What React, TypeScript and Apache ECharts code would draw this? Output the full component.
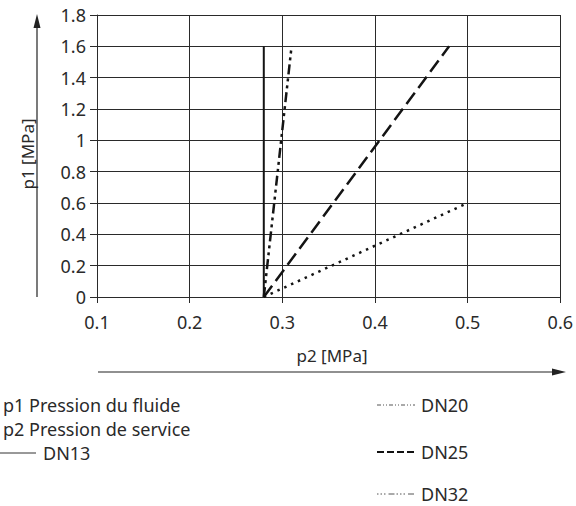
import React, { useEffect, useRef } from "react";
import * as echarts from "echarts";

const xTicks = [0.1, 0.2, 0.3, 0.4, 0.5, 0.6];
const yTicks = [0, 0.2, 0.4, 0.6, 0.8, 1, 1.2, 1.4, 1.6, 1.8];
const seriesNames = ["DN13", "DN20", "DN25", "DN32"];
const dn13 = [[0.28, 0], [0.28, 1.6]];
const dn20 = [[0.28, 0], [0.31, 1.6]];
const dn25 = [[0.28, 0], [0.48, 1.6]];
const dn32 = [[0.28, 0], [0.5, 0.6]];
const legendLines = ["p1 Pression du fluide", "p2 Pression de service"];
const axisNames = ["p2 [MPa]", "p1 [MPa]"];

const FONT = "Noto Sans";
const TXT = "#2a2a2a";

export default function App() {
  const ref = useRef<HTMLDivElement>(null);
  useEffect(() => {
    if (!ref.current) return;
    const chart = echarts.init(ref.current, undefined, { renderer: "svg" });
    const lineColor = "#141414";
    const fmt = (v: number) => String(Math.round(v * 10) / 10);
    chart.setOption({
      animation: false,
      backgroundColor: "#fff",
      grid: { left: 97, right: 13, top: 15, bottom: 209, containLabel: false },
      xAxis: {
        type: "value",
        min: xTicks[0],
        max: xTicks[xTicks.length - 1],
        interval: 0.1,
        axisLine: { show: true, lineStyle: { color: "#2a2a2a", width: 1 } },
        axisTick: { show: true, length: 6, lineStyle: { color: "#2a2a2a" } },
        axisLabel: { color: TXT, fontFamily: FONT, fontSize: 18, margin: 16, formatter: fmt },
        splitLine: { show: true, lineStyle: { color: "#2a2a2a", width: 1 } },
      },
      yAxis: {
        type: "value",
        min: yTicks[0],
        max: yTicks[yTicks.length - 1],
        interval: 0.2,
        axisLine: { show: true, lineStyle: { color: "#2a2a2a", width: 1 } },
        axisTick: { show: true, length: 7, lineStyle: { color: "#2a2a2a" } },
        axisLabel: { color: TXT, fontFamily: FONT, fontSize: 18, margin: 11, formatter: fmt },
        splitLine: { show: true, lineStyle: { color: "#2a2a2a", width: 1 } },
      },
      series: [
        { name: seriesNames[0], type: "line", data: dn13, symbol: "none",
          lineStyle: { color: lineColor, width: 2, type: "solid" } },
        { name: seriesNames[1], type: "line", data: dn20, symbol: "none",
          lineStyle: { color: lineColor, width: 2.5, type: [10, 4, 3, 4, 3, 4] } },
        { name: seriesNames[2], type: "line", data: dn25, symbol: "none",
          lineStyle: { color: lineColor, width: 2.5, type: [14, 6] } },
        { name: seriesNames[3], type: "line", data: dn32, symbol: "none",
          lineStyle: { color: lineColor, width: 2.5, type: [2.5, 5] } },
      ],
      graphic: [
        // y arrow
        { type: "line", shape: { x1: 37, y1: 297, x2: 37, y2: 24 }, style: { stroke: "#222", lineWidth: 1.2 } },
        { type: "polygon", shape: { points: [[37, 14], [33.5, 28], [40.5, 28]] }, style: { fill: "#222" } },
        { type: "text", x: 27, y: 154, rotation: Math.PI / 2,
          style: { text: axisNames[1], font: `17px "${FONT}"`, fill: TXT, align: "center", verticalAlign: "middle" } },
        // x arrow
        { type: "line", shape: { x1: 98, y1: 372, x2: 555, y2: 372 }, style: { stroke: "#222", lineWidth: 1.2 } },
        { type: "polygon", shape: { points: [[566, 372], [552, 368.5], [552, 375.5]] }, style: { fill: "#222" } },
        { type: "text", x: 332, y: 355,
          style: { text: axisNames[0], font: `17px "${FONT}"`, fill: TXT, align: "center", verticalAlign: "middle" } },
        // left legend
        { type: "text", x: 3, y: 405,
          style: { text: legendLines[0], font: `18px "${FONT}"`, fill: TXT, verticalAlign: "middle" } },
        { type: "text", x: 3, y: 429,
          style: { text: legendLines[1], font: `18px "${FONT}"`, fill: TXT, verticalAlign: "middle" } },
        { type: "line", shape: { x1: 0, y1: 453, x2: 36, y2: 453 }, style: { stroke: "#333", lineWidth: 1 } },
        { type: "text", x: 43, y: 453,
          style: { text: seriesNames[0], font: `18px "${FONT}"`, fill: TXT, verticalAlign: "middle" } },
        // right legend
        { type: "line", shape: { x1: 377, y1: 405, x2: 415, y2: 405 },
          style: { stroke: "#555", lineWidth: 1, lineDash: [4, 2, 1, 2, 1, 2] } },
        { type: "text", x: 421, y: 405,
          style: { text: seriesNames[1], font: `18px "${FONT}"`, fill: TXT, verticalAlign: "middle" } },
        { type: "line", shape: { x1: 377, y1: 452, x2: 415, y2: 452 },
          style: { stroke: "#111", lineWidth: 2, lineDash: [7, 3] } },
        { type: "text", x: 421, y: 452,
          style: { text: seriesNames[2], font: `18px "${FONT}"`, fill: TXT, verticalAlign: "middle" } },
        { type: "line", shape: { x1: 377, y1: 494, x2: 415, y2: 494 },
          style: { stroke: "#555", lineWidth: 1, lineDash: [1.5, 2, 1.5, 2, 1.5, 3, 6, 2] } },
        { type: "text", x: 421, y: 494,
          style: { text: seriesNames[3], font: `18px "${FONT}"`, fill: TXT, verticalAlign: "middle" } },
      ],
    });
    return () => chart.dispose();
  }, []);
  return <div ref={ref} style={{ width: 576, height: 506, position: "absolute", left: 0, top: 0 }} />;
}
